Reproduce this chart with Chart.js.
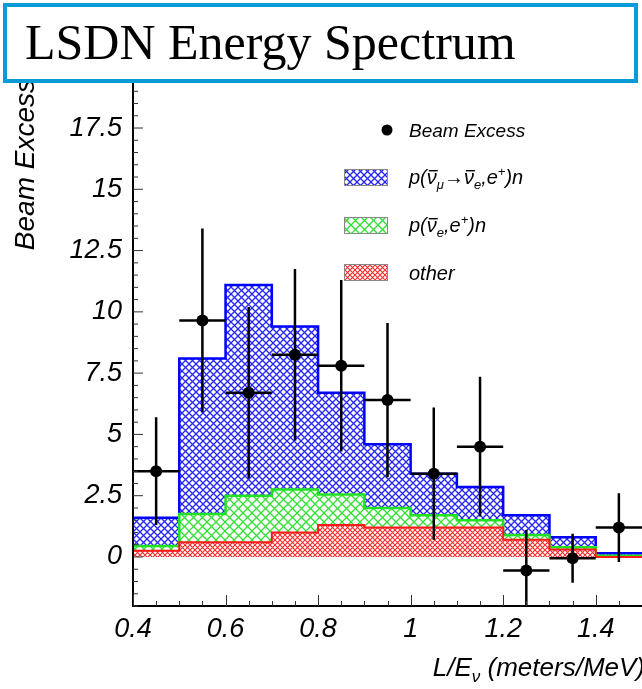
<!DOCTYPE html>
<html>
<head>
<meta charset="utf-8">
<script src="https://cdn.jsdelivr.net/npm/chart.js@4.4.0/dist/chart.umd.min.js"></script>
<style>
  html, body { margin: 0; padding: 0; background: #fff; }
  #wrap { position: relative; width: 642px; height: 689px; overflow: hidden; }
  #chart { display: block; }
  #title {
    position: absolute; left: 3px; top: 3px; width: 635px; height: 80px;
    box-sizing: border-box; border: 4px solid #0a9ad6; background: #fff;
    font-family: 'Liberation Serif', serif; font-size: 50px; line-height: 70px;
    padding-left: 18px; color: #000; white-space: nowrap;
  }
</style>
</head>
<body>
<div id="wrap">
  <canvas id="chart"></canvas>
  <div id="title">LSDN Energy Spectrum</div>
</div>
<script>
// histogram bins (left edges) in L/E, meters/MeV
const binLeft = [0.4, 0.5, 0.6, 0.7, 0.8, 0.9, 1.0, 1.1, 1.2, 1.3, 1.4];
const binEnd = 1.5;
// stacked predictions per bin
const otherBkg  = [0.25, 0.6, 0.6, 1.0, 1.3, 1.2, 1.2, 1.2, 0.7, 0.3, 0.0];
const nueBkg    = [0.2, 1.15, 1.9, 1.75, 1.25, 0.8, 0.5, 0.3, 0.2, 0.1, 0.05];
const oscSignal = [1.15, 6.35, 8.6, 6.65, 4.15, 2.6, 1.7, 1.35, 0.8, 0.4, 0.1];
// beam excess data points
const excessX   = [0.45, 0.55, 0.65, 0.75, 0.85, 0.95, 1.05, 1.15, 1.25, 1.35, 1.45];
const excessY   = [3.5, 9.65, 6.7, 8.25, 7.8, 6.4, 3.4, 4.5, -0.55, -0.05, 1.2];
const excessErr = [2.2, 3.75, 3.5, 3.5, 3.5, 3.15, 2.7, 2.85, 1.65, 1.0, 1.4];
const halfBin = 0.05;
// axis tick labels
const yTickValues = [0, 2.5, 5, 7.5, 10, 12.5, 15, 17.5];
const xTickValues = [0.4, 0.6, 0.8, 1, 1.2, 1.4];

const FONT = '"Liberation Sans", Arial, sans-serif';

function hatch(color, size, width) {
  const c = document.createElement('canvas');
  c.width = size; c.height = size;
  const g = c.getContext('2d');
  g.fillStyle = '#fff';
  g.fillRect(0, 0, size, size);
  g.strokeStyle = color;
  g.lineWidth = width;
  g.beginPath();
  g.moveTo(0, 0); g.lineTo(size, size);
  g.moveTo(size, 0); g.lineTo(0, size);
  g.stroke();
  return g.createPattern(c, 'repeat');
}
const blueHatch = hatch('#2626ff', 7, 1.3);
const greenHatch = hatch('#33dd33', 9, 1.3);
const redHatch = hatch('#ff2a2a', 5, 1.1);

// step outline: one point per left edge, plus the closing edge
function stepPoints(vals) {
  const pts = binLeft.map((x, i) => ({ x: x, y: vals[i] }));
  pts.push({ x: binEnd, y: vals[vals.length - 1] });
  return pts;
}
const redTop = otherBkg.slice();
const greenTop = otherBkg.map((v, i) => v + nueBkg[i]);
const blueTop = greenTop.map((v, i) => v + oscSignal[i]);

function drawRich(ctx, x, y, parts, measureOnly) {
  parts.forEach(p => {
    ctx.font = 'italic ' + p.size + 'px ' + FONT;
    const w = ctx.measureText(p.t).width;
    if (!measureOnly) {
      ctx.fillText(p.t, x, y + (p.dy || 0));
      if (p.bar) ctx.fillRect(x + 2, y - p.size * 0.7, w - 1, 1.4);
    }
    x += w;
  });
  return x;
}

const rootStyle = {
  id: 'rootStyle',
  afterDatasetsDraw(chart) {
    const ctx = chart.ctx;
    const xs = chart.scales.x, ys = chart.scales.y;
    const a = chart.chartArea;

    // error bars
    ctx.save();
    ctx.beginPath();
    ctx.rect(a.left, a.top, a.right - a.left, a.bottom - a.top);
    ctx.clip();
    ctx.strokeStyle = '#000';
    ctx.lineWidth = 2.5;
    excessX.forEach((x, i) => {
      const px = xs.getPixelForValue(x);
      const py = ys.getPixelForValue(excessY[i]);
      ctx.beginPath();
      ctx.moveTo(px, ys.getPixelForValue(excessY[i] + excessErr[i]));
      ctx.lineTo(px, ys.getPixelForValue(excessY[i] - excessErr[i]));
      ctx.moveTo(xs.getPixelForValue(x - halfBin), py);
      ctx.lineTo(xs.getPixelForValue(x + halfBin), py);
      ctx.stroke();
    });
    ctx.restore();

    // axes and inward ticks
    ctx.save();
    ctx.strokeStyle = '#000';
    ctx.lineWidth = 2;
    ctx.beginPath();
    ctx.moveTo(a.left, a.top);
    ctx.lineTo(a.left, a.bottom);
    ctx.lineTo(a.right + 2, a.bottom);
    ctx.stroke();
    ctx.lineWidth = 1;
    ctx.strokeStyle = '#333';
    ctx.beginPath();
    for (let k = -4; k <= 39; k++) {
      const v = k * 0.5;
      const py = ys.getPixelForValue(v);
      const len = (k % 5 === 0) ? 10 : 5;
      ctx.moveTo(a.left, py); ctx.lineTo(a.left + len, py);
    }
    for (let k = 8; k <= 30; k++) {
      const v = k * 0.05;
      const px = Math.round(xs.getPixelForValue(v)) + 0.5;
      const len = (k % 4 === 0) ? 11 : 5;
      ctx.moveTo(px, a.bottom); ctx.lineTo(px, a.bottom - len);
    }
    ctx.stroke();
    ctx.restore();
  },
  afterDraw(chart) {
    const ctx = chart.ctx;
    ctx.save();
    ctx.fillStyle = '#000';
    ctx.textBaseline = 'alphabetic';

    // legend
    ctx.beginPath();
    ctx.arc(387, 130, 5.5, 0, Math.PI * 2);
    ctx.fill();
    drawRich(ctx, 409, 137, [{ t: 'Beam Excess', size: 19 }]);

    const boxes = [
      { y: 169, fill: blueHatch },
      { y: 217, fill: greenHatch },
      { y: 264, fill: redHatch }
    ];
    boxes.forEach(b => {
      ctx.fillStyle = b.fill;
      ctx.fillRect(344, b.y, 44, 17);
      ctx.strokeStyle = '#888';
      ctx.lineWidth = 1;
      ctx.strokeRect(344.5, b.y + 0.5, 43, 16);
    });
    ctx.fillStyle = '#000';
    drawRich(ctx, 409, 184, [
      { t: 'p(', size: 20 }, { t: '\u03bd', size: 20, bar: true },
      { t: '\u03bc', size: 13, dy: 5 }, { t: '\u2192', size: 20 },
      { t: '\u03bd', size: 20, bar: true }, { t: 'e', size: 13, dy: 5 },
      { t: ',e', size: 20 }, { t: '+', size: 13, dy: -8 }, { t: ')n', size: 20 }
    ]);
    drawRich(ctx, 409, 232, [
      { t: 'p(', size: 20 }, { t: '\u03bd', size: 20, bar: true },
      { t: 'e', size: 13, dy: 5 }, { t: ',e', size: 20 },
      { t: '+', size: 13, dy: -8 }, { t: ')n', size: 20 }
    ]);
    drawRich(ctx, 409, 280, [{ t: 'other', size: 20 }]);

    // x axis title with subscript
    const xTitle = [
      { t: 'L/E', size: 26 }, { t: '\u03bd', size: 17, dy: 6 },
      { t: ' (meters/MeV)', size: 26 }
    ];
    const w = drawRich(ctx, 0, 0, xTitle, true);
    drawRich(ctx, 645 - w, 676, xTitle);
    ctx.restore();
  }
};

const tickFont = { family: FONT, size: 27, style: 'italic' };

new Chart(document.getElementById('chart'), {
  type: 'line',
  data: {
    datasets: [{
      label: 'Beam Excess',
      data: excessX.map((x, i) => ({ x: x, y: excessY[i] })),
      showLine: false,
      pointRadius: 6,
      pointBackgroundColor: '#000',
      pointBorderWidth: 0
    }, {
      label: 'other',
      data: stepPoints(redTop),
      stepped: 'before',
      borderColor: '#ff1a1a',
      borderWidth: 2,
      backgroundColor: redHatch,
      fill: 'origin',
      pointRadius: 0
    }, {
      label: 'p(nu_e, e+)n',
      data: stepPoints(greenTop),
      stepped: 'before',
      borderColor: '#22e022',
      borderWidth: 2.5,
      backgroundColor: greenHatch,
      fill: '-1',
      pointRadius: 0
    }, {
      label: 'p(nu_mu -> nu_e, e+)n',
      data: stepPoints(blueTop),
      stepped: 'before',
      borderColor: '#0000ff',
      borderWidth: 2.5,
      backgroundColor: blueHatch,
      fill: '-1',
      pointRadius: 0
    }]
  },
  options: {
    responsive: true,
    maintainAspectRatio: false,
    animation: false,
    layout: { autoPadding: false, padding: { top: 79, right: 0, left: 0, bottom: 0 } },
    plugins: {
      legend: { display: false },
      tooltip: { enabled: false }
    },
    scales: {
      x: {
        type: 'linear',
        min: 0.4,
        max: 1.5,
        grid: { display: false, drawTicks: false },
        border: { display: false },
        afterBuildTicks: s => { s.ticks = xTickValues.map(v => ({ value: v })); },
        afterFit: s => { s.height = 83; s.paddingLeft = 0; s.paddingRight = 0; },
        ticks: {
          color: '#000',
          font: tickFont,
          padding: 7,
          maxRotation: 0,
          autoSkip: false,
          callback: v => String(v)
        }
      },
      y: {
        type: 'linear',
        min: -2,
        max: 19.5,
        grid: { display: false, drawTicks: false },
        border: { display: false },
        afterBuildTicks: s => { s.ticks = yTickValues.map(v => ({ value: v })); },
        afterFit: s => { s.width = 133; s.paddingTop = 0; s.paddingBottom = 0; },
        ticks: {
          color: '#000',
          font: tickFont,
          padding: 11,
          callback: v => String(v)
        },
        title: {
          display: true,
          text: 'Beam Excess',
          align: 'end',
          color: '#000',
          font: { family: FONT, size: 28, style: 'italic' },
          padding: { top: 9, bottom: 0 }
        }
      }
    }
  },
  plugins: [rootStyle]
});
</script>
</body>
</html>
